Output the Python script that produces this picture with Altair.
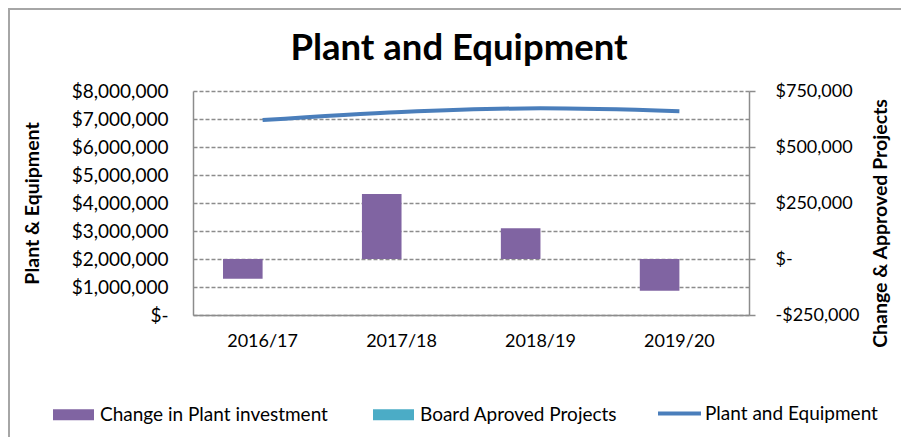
import altair as alt
import pandas as pd

# ---- data ----
years = ["2016/17", "2017/18", "2018/19", "2019/20"]
plant_equipment = [6960000, 7250000, 7380000, 7280000]
change_in_plant = [-88000, 290000, 137000, -142000]
board_approved = [0, 0, 0, 0]

series_names = ["Change in Plant investment", "Board Aproved Projects", "Plant and Equipment"]
series_colors = ["#8064A2", "#4BACC6", "#4A7EBB"]

left_ticks = [0, 1000000, 2000000, 3000000, 4000000, 5000000, 6000000, 7000000, 8000000]
right_ticks = [-250000, 0, 250000, 500000, 750000]

FONT = "Lato"
GRAY = "#8c8c8c"

bars_df = pd.DataFrame({
    "year": years * 2,
    "series": [series_names[0]] * len(years) + [series_names[1]] * len(years),
    "value": change_in_plant + board_approved,
})
line_df = pd.DataFrame({
    "year": years,
    "series": [series_names[2]] * len(years),
    "value": plant_equipment,
})

x_scale = alt.Scale(paddingInner=0.43, paddingOuter=0.216)

bar_legend = alt.Legend(
    title=None,
    orient="none",
    legendX=-141,
    legendY=302,
    direction="horizontal",
    columns=2,
    symbolType="M-1,-0.27H1V0.27H-1Z",
    symbolSize=1681,
    labelFont=FONT,
    labelFontSize=19,
    labelColor="#000000",
    labelLimit=400,
    labelOffset=5,
    columnPadding=44,
)
line_legend = alt.Legend(
    title=None,
    orient="none",
    legendX=463,
    legendY=299,
    direction="horizontal",
    symbolType="stroke",
    symbolSize=1849,
    symbolStrokeWidth=4,
    labelFont=FONT,
    labelFontSize=19,
    labelColor="#000000",
    labelLimit=400,
    labelOffset=2,
)

x_axis = alt.Axis(
    title=None,
    labelFont=FONT,
    labelFontSize=18,
    labelColor="#000000",
    labelPadding=17,
    labelAngle=0,
    ticks=False,
    domainColor=GRAY,
    domainWidth=1.5,
    grid=False,
)

border = alt.Chart(alt.Data(values=[{}])).mark_rect(
    fill="transparent", stroke="#a6a6a6", strokeWidth=2
).encode(
    x=alt.value(-184),
    y=alt.value(-82),
    x2=alt.value(900),
    y2=alt.value(500),
)

bars = alt.Chart(bars_df).mark_bar().encode(
    x=alt.X("year:N", sort=years, scale=x_scale, axis=x_axis),
    xOffset=alt.XOffset("series:N", scale=alt.Scale(domain=series_names[:2])),
    y=alt.Y(
        "value:Q",
        scale=alt.Scale(domain=[right_ticks[0], right_ticks[-1]], nice=False, zero=False),
        axis=alt.Axis(
            orient="right",
            values=right_ticks,
            labelExpr="datum.value === 0 ? '$-' : (datum.value < 0 ? '-$' + format(-datum.value, ',') : '$' + format(datum.value, ','))",
            labelFont=FONT,
            labelFontSize=18,
            labelColor="#000000",
            labelPadding=20,
            tickSize=6,
            tickColor=GRAY,
            tickWidth=1.5,
            domainColor=GRAY,
            domainWidth=1.5,
            grid=False,
            title="Change & Approved Projects",
            titleFont=FONT,
            titleFontSize=19.5,
            titleFontWeight="bold",
            titleColor="#000000",
            titleAngle=270,
            titleX=131,
            titleY=132,
            titleAlign="center",
            titleBaseline="middle",
        ),
    ),
    fill=alt.Fill(
        "series:N",
        scale=alt.Scale(domain=series_names[:2], range=series_colors[:2]),
        legend=bar_legend,
    ),
)

line = alt.Chart(line_df).mark_line(
    strokeWidth=4, interpolate="monotone"
).encode(
    x=alt.X("year:N", sort=years, scale=x_scale, axis=x_axis),
    y=alt.Y(
        "value:Q",
        scale=alt.Scale(domain=[left_ticks[0], left_ticks[-1]], nice=False),
        axis=alt.Axis(
            orient="left",
            values=left_ticks,
            labelExpr="datum.value === 0 ? '$-' : '$' + format(datum.value, ',')",
            labelFont=FONT,
            labelFontSize=19,
            labelColor="#000000",
            labelPadding=25,
            ticks=False,
            tickSize=0,
            domainColor=GRAY,
            domainWidth=1.5,
            grid=True,
            gridColor=GRAY,
            gridDash=[4, 2],
            gridWidth=1.5,
            title="Plant & Equipment",
            titleFont=FONT,
            titleFontSize=19.5,
            titleFontWeight="bold",
            titleColor="#000000",
            titleAngle=270,
            titleX=-161,
            titleY=112,
            titleAlign="center",
            titleBaseline="middle",
        ),
    ),
    stroke=alt.Stroke(
        "series:N",
        scale=alt.Scale(domain=series_names[2:], range=series_colors[2:]),
        legend=line_legend,
    ),
)

chart = alt.layer(border, bars, line).resolve_scale(y="independent").properties(
    width=556,
    height=224,
    autosize="none",
    padding={"left": 185, "top": 83, "right": 152, "bottom": 122},
    background="#ffffff",
    title=alt.TitleParams(
        "Plant and Equipment",
        font=FONT,
        fontSize=36.5,
        fontWeight="bold",
        color="#000000",
        anchor="middle",
        dx=-12,
        offset=-59,
    ),
).configure_view(stroke=None)

chart.save("out.html", embed_options={"renderer": "svg", "actions": False})
